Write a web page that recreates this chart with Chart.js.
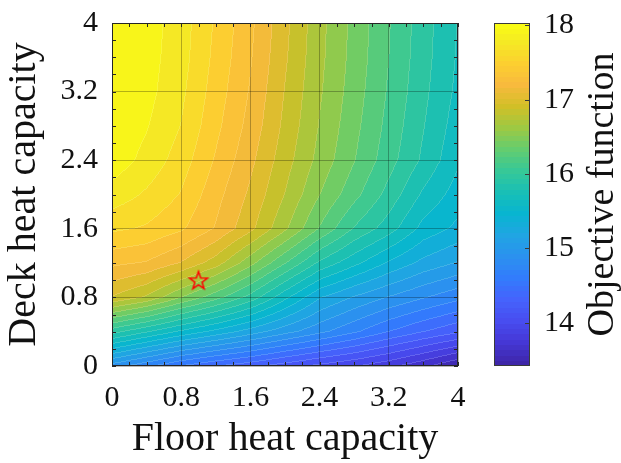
<!DOCTYPE html>
<html>
<head>
<meta charset="utf-8">
<script src="https://cdn.jsdelivr.net/npm/chart.js@4.4.1/dist/chart.umd.min.js"></script>
<style>
  html, body { margin: 0; padding: 0; background: #fff; }
  #wrap { width: 621px; height: 463px; }
</style>
</head>
<body>
<div id="wrap"><canvas id="contour-chart"></canvas></div>
<script>
// grid of the sweep: floor heat capacity (x) and deck heat capacity (y)
const floorValues = [0, 0.4, 0.8, 1.2, 1.6, 2.0, 2.4, 2.8, 3.2, 3.6, 4.0];
const deckValues = [0, 0.4, 0.8, 1.2, 1.6, 2.0, 2.4, 2.8, 3.2, 3.6, 4.0];

// objective function, one row per deck value (bottom row first)
const objectiveRows = [
    [14.90, 14.70, 14.50, 14.36, 14.25, 14.12, 14.00, 13.90, 13.78, 13.62, 13.43],
    [15.95, 15.75, 15.55, 15.38, 15.20, 15.02, 14.85, 14.68, 14.50, 14.35, 14.22],
    [16.95, 16.78, 16.50, 16.25, 15.98, 15.62, 15.28, 15.10, 14.95, 14.82, 14.70],
    [17.30, 17.25, 17.10, 16.88, 16.55, 16.20, 15.85, 15.62, 15.40, 15.22, 15.10],
    [17.60, 17.55, 17.44, 17.25, 17.00, 16.68, 16.33, 16.02, 15.80, 15.52, 15.38],
    [17.82, 17.70, 17.56, 17.32, 17.08, 16.80, 16.50, 16.24, 15.98, 15.70, 15.50],
    [17.97, 17.83, 17.65, 17.40, 17.15, 16.87, 16.60, 16.35, 16.10, 15.85, 15.60],
    [18.00, 17.89, 17.72, 17.46, 17.21, 16.92, 16.64, 16.39, 16.14, 15.89, 15.65],
    [18.02, 17.93, 17.76, 17.50, 17.25, 16.95, 16.67, 16.42, 16.17, 15.92, 15.69],
    [18.03, 17.94, 17.79, 17.53, 17.28, 16.98, 16.69, 16.44, 16.19, 15.94, 15.71],
    [18.03, 17.95, 17.80, 17.55, 17.30, 17.00, 16.70, 16.45, 16.20, 15.95, 15.72]
];

// marked design point
const starPoint = [{x: 1.0, y: 1.0}];

// axis ticks
const floorTicks = [0, 0.8, 1.6, 2.4, 3.2, 4];
const deckTicks = [0, 0.8, 1.6, 2.4, 3.2, 4];
const objectiveTicks = [14, 15, 16, 17, 18];
const objectiveRange = [13.42, 18.03];
const levelCount = 30;

// parula colormap (subsampled)
const parulaPos = [0, 4, 8, 12, 16, 20, 24, 28, 32, 36, 40, 44, 48, 52, 56, 60, 63].map(i => i / 63);
const parulaRgb = [
    [0.2422, 0.1504, 0.6603], [0.2706, 0.2147, 0.8364], [0.2813, 0.3006, 0.9414],
    [0.2699, 0.3892, 0.9906], [0.1963, 0.4847, 0.9892], [0.1687, 0.5703, 0.9359],
    [0.1248, 0.6459, 0.8883], [0.0297, 0.7082, 0.8163], [0.0964, 0.7500, 0.7120],
    [0.2161, 0.7843, 0.5923], [0.3909, 0.8029, 0.4354], [0.6174, 0.7876, 0.2612],
    [0.8203, 0.7498, 0.1535], [0.9728, 0.7298, 0.2394], [0.9892, 0.8136, 0.1885],
    [0.9597, 0.9135, 0.1423], [0.9769, 0.9839, 0.0805]
];

function parula(t) {
    t = Math.min(1, Math.max(0, t));
    let k = 0;
    while (k < parulaPos.length - 2 && t > parulaPos[k + 1]) k++;
    const f = (t - parulaPos[k]) / (parulaPos[k + 1] - parulaPos[k]);
    const a = parulaRgb[k], b = parulaRgb[k + 1];
    return [0, 1, 2].map(c => Math.round(255 * (a[c] + (b[c] - a[c]) * f)));
}

function findCell(arr, v) {
    let i = 0;
    while (i < arr.length - 2 && v > arr[i + 1]) i++;
    return i;
}

function sampleField(fx, fy) {
    const i = findCell(floorValues, fx), j = findCell(deckValues, fy);
    const tx = (fx - floorValues[i]) / (floorValues[i + 1] - floorValues[i]);
    const ty = (fy - deckValues[j]) / (deckValues[j + 1] - deckValues[j]);
    const r0 = objectiveRows[j], r1 = objectiveRows[j + 1];
    const bottom = r0[i] + (r0[i + 1] - r0[i]) * tx;
    const top = r1[i] + (r1[i + 1] - r1[i]) * tx;
    return bottom + (top - bottom) * ty;
}

function levelIndex(v) {
    const step = (objectiveRange[1] - objectiveRange[0]) / levelCount;
    const k = Math.floor((v - objectiveRange[0]) / step);
    return Math.min(levelCount - 1, Math.max(0, k));
}

function makeStar() {
    const c = document.createElement('canvas');
    c.width = 24;
    c.height = 24;
    const g = c.getContext('2d');
    g.beginPath();
    for (let k = 0; k < 10; k++) {
        const r = k % 2 ? 3.8 : 9.5;
        const ang = -Math.PI / 2 + k * Math.PI / 5;
        const px = 12 + r * Math.cos(ang), py = 12.8 + r * Math.sin(ang);
        if (k) g.lineTo(px, py); else g.moveTo(px, py);
    }
    g.closePath();
    g.strokeStyle = '#ff0000';
    g.lineWidth = 1.5;
    g.stroke();
    return c;
}

const contourPlugin = {
    id: 'contourFill',
    beforeDraw(chart) {
        const {ctx, chartArea: a, scales: {x, y}} = chart;
        const w = Math.round(a.right - a.left), h = Math.round(a.bottom - a.top);
        const off = document.createElement('canvas');
        off.width = w;
        off.height = h;
        const g = off.getContext('2d');
        const img = g.createImageData(w, h);
        const band = new Int16Array(w * h);
        for (let j = 0; j < h; j++) {
            const fy = y.getValueForPixel(a.top + j + 0.5);
            for (let i = 0; i < w; i++) {
                const fx = x.getValueForPixel(a.left + i + 0.5);
                band[j * w + i] = levelIndex(sampleField(fx, fy));
            }
        }
        const colors = [];
        for (let k = 0; k < levelCount; k++) colors.push(parula((k + 0.5) / levelCount));
        for (let j = 0; j < h; j++) {
            for (let i = 0; i < w; i++) {
                const p = j * w + i;
                const col = colors[band[p]];
                const edge = (i < w - 1 && band[p + 1] !== band[p]) || (j < h - 1 && band[p + w] !== band[p]);
                const m = edge ? 0.15 : 0;
                img.data[p * 4] = col[0] + (255 - col[0]) * m;
                img.data[p * 4 + 1] = col[1] + (255 - col[1]) * m;
                img.data[p * 4 + 2] = col[2] + (255 - col[2]) * m;
                img.data[p * 4 + 3] = 255;
            }
        }
        g.putImageData(img, 0, 0);
        ctx.drawImage(off, Math.round(a.left), Math.round(a.top));
    },
    afterDraw(chart) {
        const {ctx, chartArea: a, scales: {x, y, c}} = chart;
        ctx.save();
        ctx.strokeStyle = '#262626';
        ctx.lineWidth = 1;
        // ticks pointing inward on all sides
        ctx.beginPath();
        for (let v = 0; v <= 4.0001; v += 0.2) {
            const px = Math.round(x.getPixelForValue(v)) + 0.5;
            const py = Math.round(y.getPixelForValue(v)) + 0.5;
            ctx.moveTo(px, a.bottom); ctx.lineTo(px, a.bottom - 4);
            ctx.moveTo(px, a.top); ctx.lineTo(px, a.top + 4);
            ctx.moveTo(a.left, py); ctx.lineTo(a.left + 4, py);
            ctx.moveTo(a.right, py); ctx.lineTo(a.right - 4, py);
        }
        ctx.stroke();
        ctx.strokeRect(Math.round(a.left) + 0.5, Math.round(a.top) + 0.5,
            Math.round(a.right - a.left) - 1, Math.round(a.bottom - a.top) - 1);

        // colour bar
        const bx = Math.round(c.left) + 36, bw = 36;
        const n = 64;
        const span = objectiveRange[1] - objectiveRange[0];
        for (let s = 0; s < n; s++) {
            const y0 = c.getPixelForValue(objectiveRange[0] + span * s / n);
            const y1 = c.getPixelForValue(objectiveRange[0] + span * (s + 1) / n);
            const col = parula(s / (n - 1));
            ctx.fillStyle = `rgb(${col[0]},${col[1]},${col[2]})`;
            ctx.fillRect(bx, Math.floor(y1), bw, Math.ceil(y0) - Math.floor(y1));
        }
        const top = Math.round(c.getPixelForValue(objectiveRange[1]));
        const bot = Math.round(c.getPixelForValue(objectiveRange[0]));
        ctx.strokeStyle = '#3a3a3a';
        ctx.strokeRect(bx + 0.5, top + 0.5, bw - 1, bot - top - 1);
        ctx.beginPath();
        objectiveTicks.forEach(v => {
            const py = Math.round(c.getPixelForValue(v)) + 0.5;
            ctx.moveTo(bx + bw - 1, py); ctx.lineTo(bx + bw - 5, py);
        });
        ctx.stroke();

        // colour bar label
        ctx.translate(603, (a.top + a.bottom) / 2);
        ctx.rotate(-Math.PI / 2);
        ctx.fillStyle = '#111';
        ctx.font = '38px "Liberation Serif", serif';
        ctx.textAlign = 'center';
        ctx.textBaseline = 'middle';
        ctx.fillText('Objective function', 0, 0);
        ctx.restore();
    }
};

Chart.defaults.font.family = '"Liberation Serif", "Times New Roman", serif';
Chart.defaults.color = '#111';

const tickFont = {size: 30};
const titleFont = {size: 40};
const gridStyle = {color: 'rgba(0,0,0,0.28)', lineWidth: 1, drawTicks: false};
const fmt = v => String(+v.toFixed(1));
const noPad = s => { s.paddingTop = 0; s.paddingBottom = 0; s.paddingLeft = 0; s.paddingRight = 0; };

new Chart('contour-chart', {
    type: 'scatter',
    data: {
        datasets: [{
            data: starPoint,
            pointStyle: makeStar(),
            xAxisID: 'x',
            yAxisID: 'y'
        }]
    },
    options: {
        responsive: true,
        maintainAspectRatio: false,
        animation: false,
        layout: {padding: {top: 23, right: 46, bottom: 0, left: 0}},
        plugins: {legend: {display: false}, tooltip: {enabled: false}},
        scales: {
            x: {
                type: 'linear',
                min: 0,
                max: 4,
                afterBuildTicks: s => { s.ticks = floorTicks.map(v => ({value: v})); },
                afterFit: s => { s.height = 97; noPad(s); },
                ticks: {font: tickFont, padding: 14, maxRotation: 0, callback: fmt},
                grid: gridStyle,
                border: {display: false},
                title: {display: true, text: 'Floor heat capacity', font: titleFont, padding: 0}
            },
            y: {
                type: 'linear',
                min: 0,
                max: 4,
                afterBuildTicks: s => { s.ticks = deckTicks.map(v => ({value: v})); },
                afterFit: s => { s.width = 112; noPad(s); },
                ticks: {font: tickFont, padding: 14, callback: fmt},
                grid: gridStyle,
                border: {display: false},
                title: {display: true, text: 'Deck heat capacity', font: titleFont, padding: 0}
            },
            c: {
                type: 'linear',
                position: 'right',
                min: objectiveRange[0],
                max: objectiveRange[1],
                afterBuildTicks: s => { s.ticks = objectiveTicks.map(v => ({value: v})); },
                afterFit: s => { s.width = 117; noPad(s); },
                ticks: {font: tickFont, padding: 86, callback: v => String(v)},
                grid: {display: false, drawTicks: false},
                border: {display: false}
            }
        }
    },
    plugins: [contourPlugin]
});
</script>
</body>
</html>
